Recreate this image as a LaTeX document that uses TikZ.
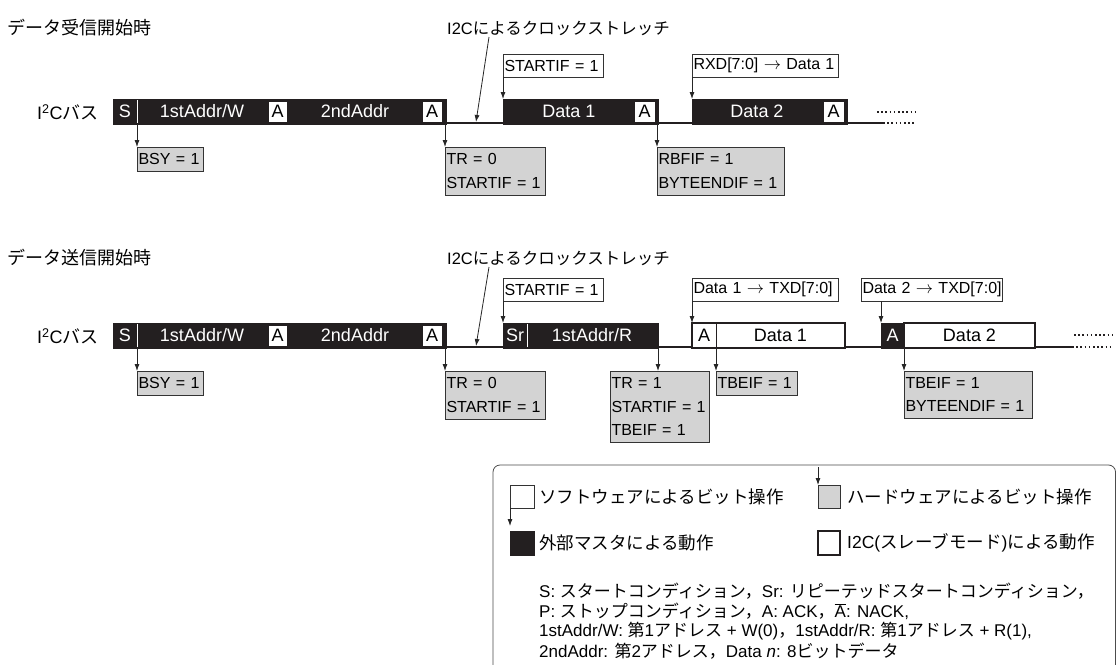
\documentclass[tikz,border=0pt]{standalone}
\usepackage{fontspec}
\setmainfont{Liberation Sans}
\newfontfamily\jp{Noto Sans CJK JP}
\usetikzlibrary{arrows.meta}
\definecolor{mblack}{RGB}{35,31,32}
\definecolor{hw}{RGB}{211,211,211}
\begin{document}
\begin{tikzpicture}[x=1pt,y=-1pt,
 bar/.style={fill=mblack, draw=mblack, line width=1pt, minimum height=25pt, anchor=north west, inner sep=0pt, outer sep=0pt},
 slave/.style={fill=white, draw=mblack, line width=2pt, minimum height=25pt, anchor=north west, inner sep=0pt, outer sep=0pt},
 bustxt/.style={text=white, font=\fontsize{18}{20}\selectfont, inner sep=0pt},
 slvtxt/.style={text=black, font=\fontsize{18}{20}\selectfont, inner sep=0pt},
 ackw/.style={fill=white, draw=mblack, line width=0.8pt, minimum height=21pt, inner sep=0pt, text=black, font=\fontsize{18}{20}\selectfont},
 base/.style={draw=mblack, line width=2pt},
 divw/.style={draw=white, line width=1pt},
 divk/.style={draw=mblack, line width=1pt},
 arr/.style={draw=black!85, line width=0.8pt, -{Latex[length=7pt,width=5pt]}},
 dots/.style={draw=mblack, line width=1.5pt, dash pattern=on 1.5pt off 2.7pt},
 sbox/.style={fill=white, draw=black!80, line width=0.8pt, anchor=north west, inner xsep=1.5pt, inner ysep=0pt, outer sep=0pt, minimum height=23pt, font=\fontsize{16}{23.5}\selectfont, align=left},
 gbox/.style={sbox, fill=hw},
 hd/.style={anchor=west, inner sep=0pt, font=\fontsize{18}{20}\selectfont},
 hdcs/.style={anchor=west, inner sep=0pt, font=\fontsize{16.5}{20}\selectfont},
 lgt/.style={anchor=west, inner sep=0pt, font=\fontsize{17.5}{20}\selectfont},
 lgl/.style={anchor=west, inner sep=0pt, font=\fontsize{17}{20}\selectfont},
 lbox/.style={draw=black!80, line width=0.8pt, anchor=north west, inner sep=0pt, outer sep=0pt, minimum width=24pt, minimum height=23pt}
]
\useasboundingbox (0,0) rectangle (1116,664);
\fill[white] (0,0) rectangle (1116,664);

% ================= top row =================
\node[hd] (h1) at (7,28) {\jp データ受信開始時};
\node[hdcs] (cs1) at (447,28) {I2C\jp によるクロックストレッチ};
\node[hd] (bus1) at (37,112) {I\textsuperscript{2}C\jp バス};

\draw[base] (113,123) -- (883,123);
\node[bar, minimum width=333pt] (bA1) at (113,99) {};
\node[bar, minimum width=155pt] (bB1) at (503,99) {};
\node[bar, minimum width=155pt] (bC1) at (692,99) {};
\draw[divw] (137,100) -- (137,123);
\node[bustxt] (tS1) at (125,111.5) {S};
\node[bustxt] (tW1) at (202,111.5) {1stAddr/W};
\node[ackw, minimum width=19pt] (tA11) at (277.5,111.5) {A};
\node[bustxt] (tN1) at (355,111.5) {2ndAddr};
\node[ackw, minimum width=20pt] (tA12) at (432,111.5) {A};
\node[bustxt] (tD11) at (569,111.5) {Data 1};
\node[ackw, minimum width=21pt] (tA13) at (644.5,111.5) {A};
\node[bustxt] (tD12) at (757,111.5) {Data 2};
\node[ackw, minimum width=21pt] (tA14) at (833.5,111.5) {A};
\draw[dots] (877,112) -- (915,112);
\draw[dots] (883,123) -- (915,123);

\coordinate (cs1s) at (489,37);
\coordinate (cs1e) at (476,122);
\draw[arr] (cs1s) -- (cs1e);

\node[sbox, text width=97pt] (sSI1) at (503,54) {STARTIF~=~1};
\node[sbox, text width=143pt] (sRX) at (692,54) {RXD[7:0]~$\rightarrow$~Data~1};
\draw[arr] (sSI1.south west) -- (sSI1.south west |- bB1.north);
\draw[arr] (sRX.south west) -- (sRX.south west |- bC1.north);

\node[gbox, text width=63pt, minimum height=24pt] (gBSY1) at (137,147) {BSY~=~1};
\node[gbox, text width=97pt, minimum height=48pt] (gTR01) at (445,147) {TR~=~0\\STARTIF~=~1};
\node[gbox, text width=124pt, minimum height=48pt] (gRB1) at (657,147) {RBFIF~=~1\\BYTEENDIF~=~1};
\draw[arr] (gBSY1.north west |- bA1.south) -- (gBSY1.north west);
\draw[arr] (gTR01.north west |- bA1.south) -- (gTR01.north west);
\draw[arr] (gRB1.north west |- bB1.south) -- (gRB1.north west);

% ================= bottom row =================
\node[hd] (h2) at (7,258) {\jp データ送信開始時};
\node[hdcs] (cs2) at (447,258) {I2C\jp によるクロックストレッチ};
\node[hd] (bus2) at (37,336) {I\textsuperscript{2}C\jp バス};

\draw[base] (113,347) -- (1072,347);
\node[bar, minimum width=333pt] (bA2) at (113,323) {};
\node[bar, minimum width=155pt] (bB2) at (503,323) {};
\node[slave, minimum width=153pt] (sC2) at (692,323) {};
\node[bar, minimum width=23pt] (bD2) at (881,323) {};
\node[slave, minimum width=131pt] (sE2) at (904,323) {};
\draw[divw] (137,324) -- (137,347);
\draw[divw] (527,324) -- (527,347);
\draw[divk] (716,324) -- (716,347);
\node[bustxt] (tS2) at (125,335.5) {S};
\node[bustxt] (tW2) at (202,335.5) {1stAddr/W};
\node[ackw, minimum width=19pt] (tA21) at (277.5,335.5) {A};
\node[bustxt] (tN2) at (355,335.5) {2ndAddr};
\node[ackw, minimum width=20pt] (tA22) at (432,335.5) {A};
\node[bustxt] (tSr) at (515,335.5) {Sr};
\node[bustxt] (tR2) at (592,335.5) {1stAddr/R};
\node[slvtxt] (tA23) at (704,335.5) {A};
\node[slvtxt] (tD21) at (780.5,335.5) {Data 1};
\node[bustxt] (tA24) at (892.5,335.5) {A};
\node[slvtxt] (tD22) at (969.5,335.5) {Data 2};
\draw[dots] (1074,335) -- (1112,335);
\draw[dots] (1072,347) -- (1112,347);

\coordinate (cs2s) at (489,267);
\coordinate (cs2e) at (476,346);
\draw[arr] (cs2s) -- (cs2e);

\node[sbox, text width=97pt] (sSI2) at (503,278) {STARTIF~=~1};
\node[sbox, text width=143pt] (sTX1) at (692,278) {Data~1~$\rightarrow$~TXD[7:0]};
\node[sbox, text width=138pt] (sTX2) at (861,278) {Data~2~$\rightarrow$~TXD[7:0]};
\draw[arr] (sSI2.south west) -- (sSI2.south west |- bB2.north);
\draw[arr] (sTX1.south west) -- (sTX1.south west |- sC2.north);
\draw[arr] (sTX2.south -| bD2.west) -- (bD2.north west);

\node[gbox, text width=63pt, minimum height=24pt] (gBSY2) at (137,371) {BSY~=~1};
\node[gbox, text width=97pt, minimum height=48pt] (gTR02) at (445,371) {TR~=~0\\STARTIF~=~1};
\node[gbox, text width=96pt, minimum height=71pt] (gTR1) at (610,371) {TR~=~1\\STARTIF~=~1\\TBEIF~=~1};
\node[gbox, text width=78pt, minimum height=24pt] (gTB) at (716,371) {TBEIF~=~1};
\node[gbox, text width=125pt, minimum height=47pt] (gTB2) at (904,371) {TBEIF~=~1\\BYTEENDIF~=~1};
\draw[arr] (gBSY2.north west |- bA2.south) -- (gBSY2.north west);
\draw[arr] (gTR02.north west |- bA2.south) -- (gTR02.north west);
\draw[arr] (bB2.south east) -- (bB2.south east |- gTR1.north);
\draw[arr] (gTB.north west |- sC2.south) -- (gTB.north west);
\draw[arr] (gTB2.north west |- sE2.south) -- (gTB2.north west);

% ================= legend =================
\draw[draw=black!70, line width=0.8pt, rounded corners=7pt] (493,700) -- (493,465) -- (1115.5,465) -- (1115.5,700);
\node[lbox, fill=white] (lg1) at (510,485) {};
\node[lbox, fill=hw, minimum width=22pt] (lg2) at (818,485) {};
\node[lbox, fill=mblack, draw=mblack, minimum height=24pt] (lg3) at (510,531) {};
\node[lbox, fill=white, draw=mblack, line width=2pt, minimum width=22pt, minimum height=24pt] (lg4) at (818,531) {};
\coordinate (lg1e) at (510,526);
\coordinate (lg2s) at (818,467);
\draw[arr] (lg1.south west) -- (lg1e);
\draw[arr] (lg2s) -- (lg2.north west);
\node[lgt] (l1t) at (539,497) {\jp ソフトウェアによるビット操作};
\node[lgt] (l2t) at (847,497) {\jp ハードウェアによるビット操作};
\node[lgt] (l3t) at (539,543) {\jp 外部マスタによる動作};
\node[lgt] (l4t) at (847,543) {I2C({\jp スレーブモード}){\jp による動作}};
\node[lgl] (n1) at (539,591) {S: {\jp スタートコンディション，}Sr: {\jp リピーテッドスタートコンディション，}};
\node[lgl] (n2) at (539,611) {P: {\jp ストップコンディション，}A: ACK{\jp ，}$\overline{\hbox{A}}$: NACK,};
\node[lgl] (n3) at (539,631) {1stAddr/W: {\jp 第}1{\jp アドレス} + W(0){\jp ，}1stAddr/R: {\jp 第}1{\jp アドレス} + R(1),};
\node[lgl] (n4) at (539,651) {2ndAddr: {\jp 第}2{\jp アドレス，}Data \textit{n}: 8{\jp ビットデータ}};
\end{tikzpicture}
\end{document}
